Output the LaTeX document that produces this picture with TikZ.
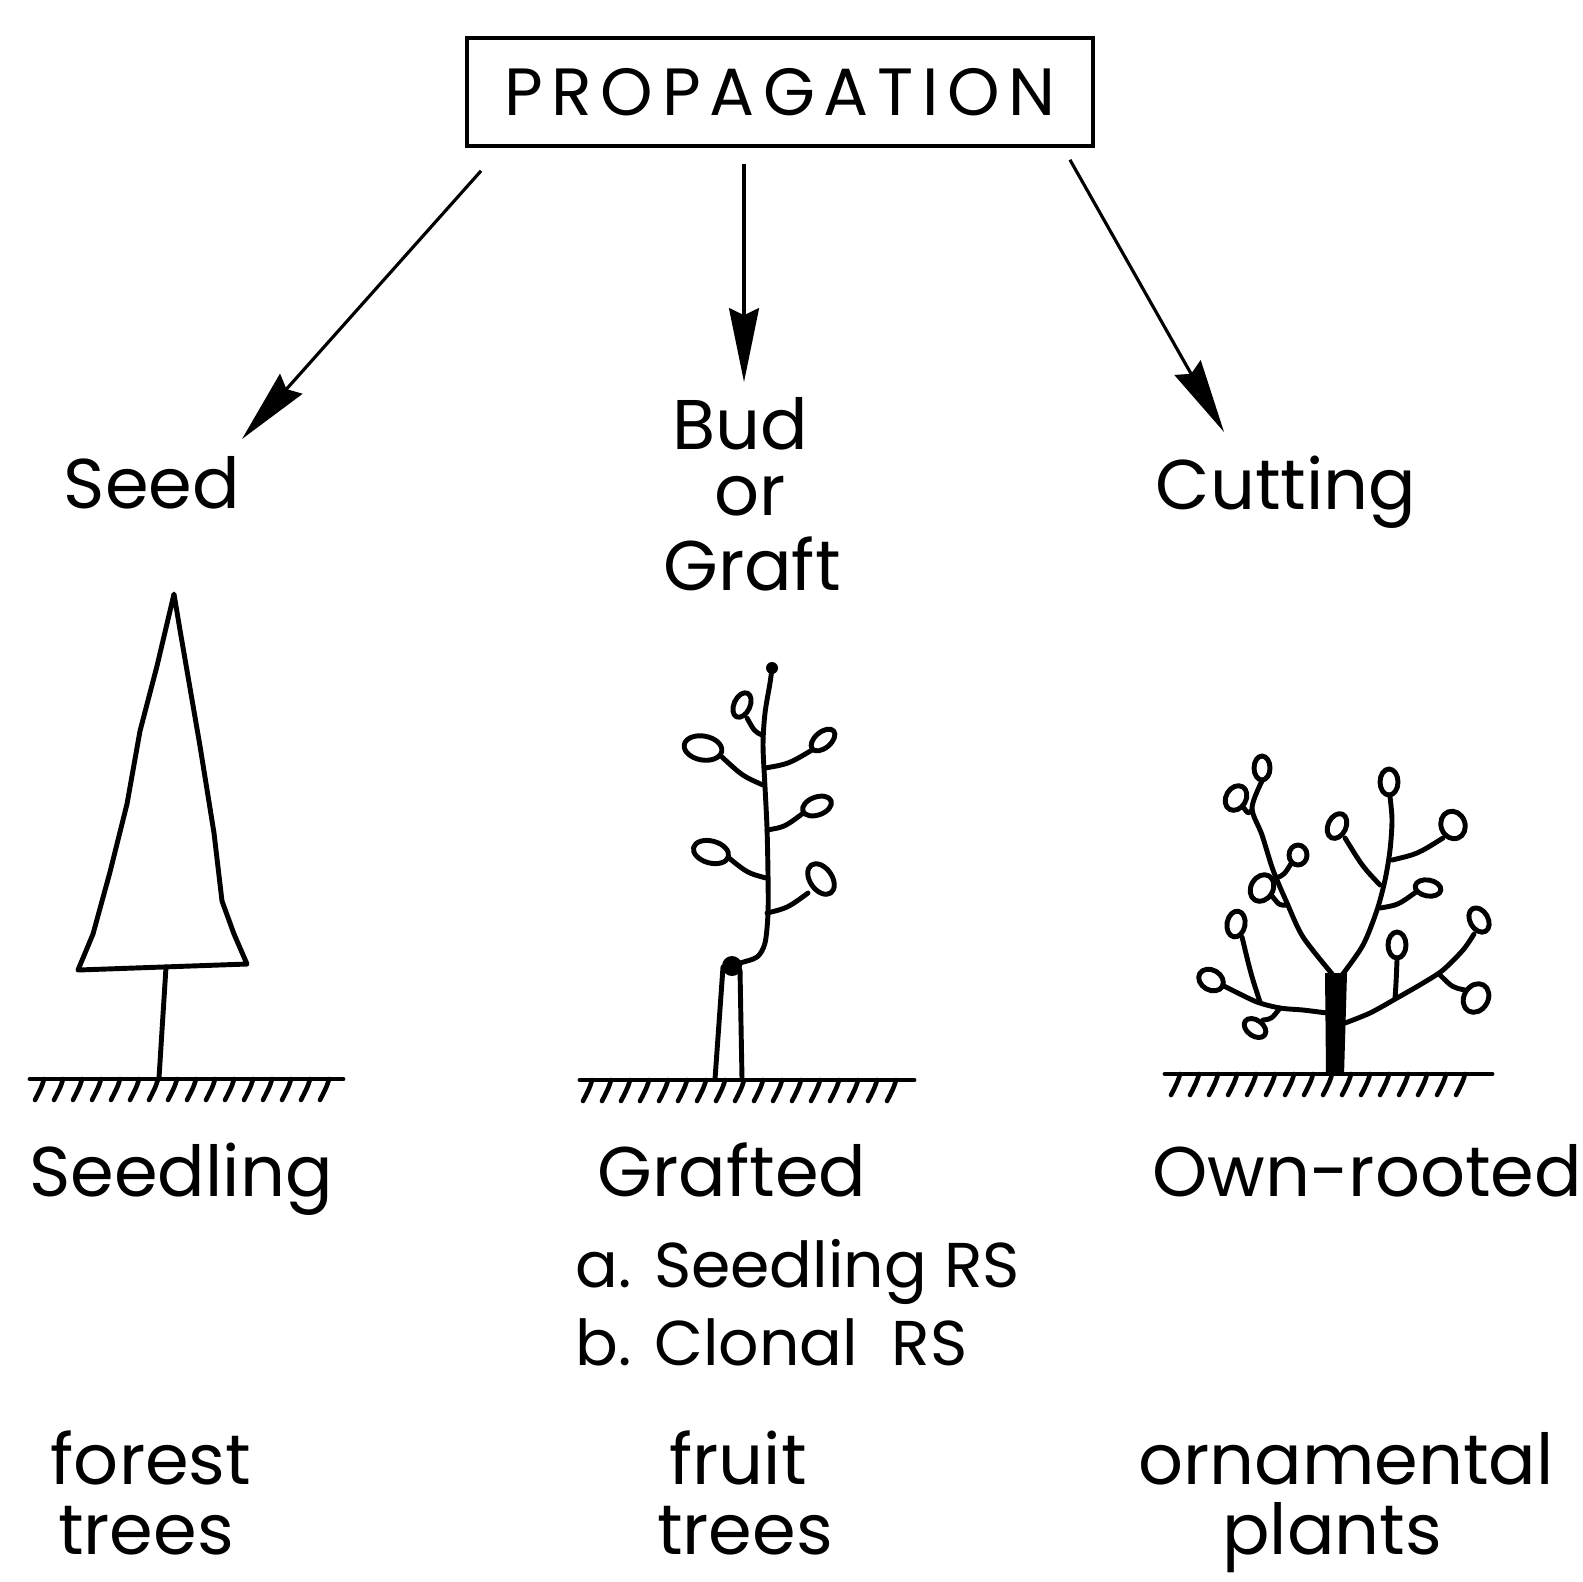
\documentclass[tikz,border=0pt]{standalone}
\usepackage{fontspec}
\setmainfont{Poppins}
\usepackage{tikz}
\usetikzlibrary{arrows.meta, calc}
\tikzstyle{arrow} = [line width=0.9pt, -{Stealth[length=21pt, width=8.5pt, inset=2pt]}]
\tikzset{plant/.style={line width=1.4pt, line cap=round, line join=round},
  leaf/.style={plant, fill=white},
  word/.style={inner sep=0pt, anchor=base, font=\fontsize{20}{24}\selectfont},
  small word/.style={word, anchor=base west, font=\fontsize{18}{22}\selectfont}}

\begin{document}
\begin{tikzpicture}[x=0.01cm, y=-0.01cm]
    \useasboundingbox (0,0) rectangle (1583,1581);

    % Box on top
    \node[draw, line width=1pt, minimum width=6.26cm, minimum height=1.08cm,
          font=\fontsize{19}{22}\selectfont\addfontfeatures{LetterSpace=13}] (prop) at (780,92) {PROPAGATION};

    % The three ways
    \node[word] (seed) at (152,508) {Seed};
    \node[word] (bud) at (740,449) {Bud};
    \node[word] (or) at (750,515) {or};
    \node[word] (graft) at (752,590) {Graft};
    \node[word] (cutting) at (1286,509) {Cutting};

    \coordinate (tipL) at (242,439);
    \coordinate (tipM) at (744,382);
    \coordinate (tipR) at (1224,432);
    \draw[arrow] ([shift={(16,23)}]prop.south west) -- (tipL);
    \draw[arrow] ([shift={(-36,16)}]prop.south) -- (tipM);
    \draw[arrow] ([shift={(-25,12)}]prop.south east) -- (tipR);

    % Ground under each plant
    \foreach \xa/\xb/\gy/\hs/\n in {30/343/1079/42/15, 580/914/1080/590/16, 1165/1492/1074/1178/15} {
        \draw[plant] (\xa,\gy) -- (\xb,\gy);
        \foreach \k in {0,...,\n}
            \draw[line width=1.3pt, line cap=round] (\hs+\k*19+2,\gy) .. controls (\hs+\k*19,\gy+8) and (\hs+\k*19-4,\gy+15) .. (\hs+\k*19-7,\gy+21);
    }

    % Seedling: conifer
    \draw[plant] (174,594) -- (157,666) -- (140,731) -- (127,804) -- (110,872) -- (93,934) -- (78,970)
        -- (247,964) -- (234,934) -- (222,901) -- (214,833) -- (200,746) -- (180,630) -- cycle;
    \draw[plant] (166,967) -- (159,1078);

    % Grafted: stock, union and scion
    \draw[plant] (723,967) -- (715,1079);
    \draw[plant] (740,970) -- (742,1079);
    \fill (732,966) circle (10);
    \draw[plant] plot[smooth] coordinates {(772,668) (770,683) (765,713) (763,745) (765,787)
        (767,828) (768,875) (768,913) (765,943) (757,957) (740,963) (732,966)};
    \fill (772,668) circle (6);
    \foreach \sx/\sy/\bx/\by in {762/735/747/718, 763/785/722/757, 765/768/812/750,
                                 767/830/802/814, 766/878/729/858, 767/913/808/893}
        \draw[plant] (\sx,\sy) .. controls ($(\sx,\sy)!0.5!(\bx,\by)+(0,5)$) .. (\bx,\by);
    \foreach \cx/\cy/\rx/\ry/\r in {742/705/8/13/-25, 703/748/19/12/-10, 823/740/14/8/40,
                                    817/806/15/9/20, 711/852/18/11/-15, 821/879/11/17/35}
        \draw[leaf, rotate around={\r:(\cx,\cy)}] (\cx,\cy) ellipse [x radius=\rx, y radius=\ry];

    % Own-rooted: bush
    \fill (1326,1075) -- (1344,1075) -- (1347,973) -- (1325,973) -- cycle;
    \draw[plant] plot[smooth] coordinates {(1333,975) (1303,937) (1287,903) (1273,870) (1262,835) (1252,808) (1262,781)};
    \draw[plant] plot[smooth] coordinates {(1342,975) (1363,945) (1377,910) (1385,880) (1390,850) (1392,820) (1390,797)};
    \draw[plant] plot[smooth] coordinates {(1327,1013) (1303,1010) (1280,1008) (1257,1002) (1232,990) (1220,984)};
    \draw[plant] plot[smooth] coordinates {(1345,1023) (1370,1013) (1397,998) (1423,983) (1443,970) (1463,950) (1474,934)};
    \foreach \sx/\sy/\bx/\by in {1252/810/1244/808, 1276/878/1292/862, 1287/905/1272/896,
                                 1380/885/1345/838, 1392/860/1443/838, 1380/908/1416/892,
                                 1260/1002/1242/937, 1280/1008/1263/1020, 1395/998/1397/960,
                                 1440/975/1465/990}
        \draw[plant] (\sx,\sy) .. controls ($(\sx,\sy)!0.5!(\bx,\by)+(0,5)$) .. (\bx,\by);
    \foreach \cx/\cy/\rx/\ry/\r in {1262/768/8/12/0, 1236/798/10/13/-30, 1298/855/9/10/0,
                                    1262/888/11/14/-30, 1389/782/9/13/0, 1337/826/9/13/-25,
                                    1453/825/12/14/20, 1428/888/13/8/-10, 1211/980/13/10/-30,
                                    1236/924/9/13/-10, 1255/1028/12/8/-35, 1479/920/9/13/30,
                                    1397/945/9/13/0, 1476/998/12/15/-30}
        \draw[leaf, rotate around={\r:(\cx,\cy)}] (\cx,\cy) ellipse [x radius=\rx, y radius=\ry];

    % Kind of plant
    \node[word] (seedling) at (181,1196) {Seedling};
    \node[word] (grafted) at (732,1196) {Grafted};
    \node[word] (ownrooted) at (1367,1196) {Own-rooted};
    \node[small word] (rsa) at (575,1287) {a. Seedling RS};
    \node[small word] (rsb) at (575,1365) {b. Clonal\ \ RS};

    % Where it is used
    \node[word] (forest) at (151,1484) {forest};
    \node[word] (trees1) at (146,1554) {trees};
    \node[word] (fruit) at (738,1484) {fruit};
    \node[word] (trees2) at (745,1554) {trees};
    \node[word] (ornam) at (1346,1484) {ornamental};
    \node[word] (plants) at (1332,1554) {plants};
\end{tikzpicture}
\end{document}
